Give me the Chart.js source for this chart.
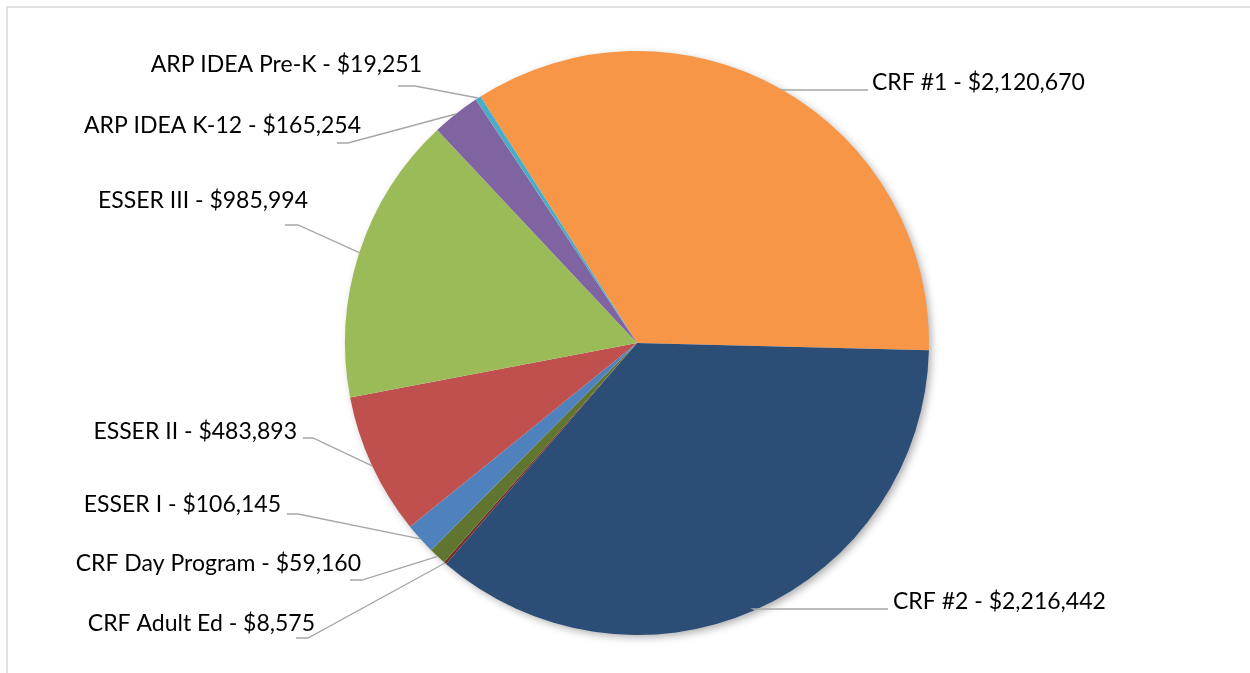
<!DOCTYPE html>
<html>
<head>
<meta charset="utf-8">
<script src="https://cdn.jsdelivr.net/npm/chart.js@4"></script>
<style>
  html, body { margin: 0; padding: 0; background: #fff; }
  #wrap { width: 1250px; height: 673px; }
</style>
</head>
<body>
<div id="wrap"><canvas id="fundsChart" width="1250" height="673"></canvas></div>
<script>
// Data (clockwise from the orange slice)
const categories = ['CRF #1', 'CRF #2', 'CRF Adult Ed', 'CRF Day Program', 'ESSER I', 'ESSER II', 'ESSER III', 'ARP IDEA K-12', 'ARP IDEA Pre-K'];
const amounts = [2120670, 2216442, 8575, 59160, 106145, 483893, 985994, 165254, 19251];
const sliceColors = ['#F79646', '#2C4D75', '#772C2A', '#5F7530', '#4F81BD', '#C0504D', '#9BBB59', '#8064A2', '#4BACC6'];

// where each label sits: text anchor (x, y), align, and the short horizontal end of the leader line
const labelSpots = [
  { x: 872, y: 83, align: 'left', lx1: 782, lx2: 868, ly: 90 },
  { x: 893, y: 602, align: 'left', lx1: 753, lx2: 888, ly: 609 },
  { x: 315, y: 624, align: 'right', lx1: 308, lx2: 296, ly: 638 },
  { x: 361, y: 564, align: 'right', lx1: 362, lx2: 350, ly: 580 },
  { x: 281, y: 505, align: 'right', lx1: 298, lx2: 287, ly: 514 },
  { x: 297, y: 432, align: 'right', lx1: 313, lx2: 303, ly: 438 },
  { x: 308, y: 201, align: 'right', lx1: 298, lx2: 285, ly: 225 },
  { x: 361, y: 126, align: 'right', lx1: 348, lx2: 337, ly: 143 },
  { x: 422, y: 65, align: 'right', lx1: 415, lx2: 398, ly: 86 }
];

const fmt = v => '$' + v.toLocaleString('en-US');

const frameAndShadow = {
  id: 'frameAndShadow',
  beforeDraw(chart) {
    const c = chart.ctx;
    c.save();
    c.strokeStyle = '#d9d9d9';
    c.lineWidth = 1.5;
    c.strokeRect(7, 7, 1260, 700);
    c.restore();
  },
  beforeDatasetsDraw(chart) {
    const arc = chart.getDatasetMeta(0).data[0];
    if (!arc) return;
    const c = chart.ctx;
    c.save();
    c.shadowColor = 'rgba(0,0,0,0.35)';
    c.shadowBlur = 9;
    c.shadowOffsetX = 3;
    c.shadowOffsetY = 3;
    c.fillStyle = '#fff';
    c.beginPath();
    c.arc(arc.x, arc.y, arc.outerRadius - 1, 0, Math.PI * 2);
    c.fill();
    c.restore();
  }
};

const leaderLabels = {
  id: 'leaderLabels',
  afterDatasetsDraw(chart) {
    const c = chart.ctx;
    const meta = chart.getDatasetMeta(0);
    c.save();
    c.font = '23px Lato, "Open Sans", sans-serif';
    c.textBaseline = 'middle';
    meta.data.forEach((arc, i) => {
      const s = labelSpots[i];
      const mid = (arc.startAngle + arc.endAngle) / 2;
      const ax = arc.x + Math.cos(mid) * arc.outerRadius;
      const ay = arc.y + Math.sin(mid) * arc.outerRadius;
      c.strokeStyle = '#a6a6a6';
      c.lineWidth = 1.3;
      c.beginPath();
      c.moveTo(ax, ay);
      c.lineTo(s.lx1, s.ly);
      c.lineTo(s.lx2, s.ly);
      c.stroke();
      c.fillStyle = '#000';
      c.textAlign = s.align;
      c.fillText(categories[i] + ' - ' + fmt(amounts[i]), s.x, s.y);
    });
    c.restore();
  }
};

new Chart(document.getElementById('fundsChart'), {
  type: 'pie',
  data: {
    labels: categories,
    datasets: [{
      data: amounts,
      backgroundColor: sliceColors,
      borderWidth: 0
    }]
  },
  options: {
    responsive: false,
    animation: false,
    rotation: -32.4,
    layout: { padding: { left: 24, right: 0, top: 51, bottom: 38 } },
    plugins: {
      legend: { display: false },
      tooltip: { enabled: false }
    }
  },
  plugins: [frameAndShadow, leaderLabels]
});
</script>
</body>
</html>
